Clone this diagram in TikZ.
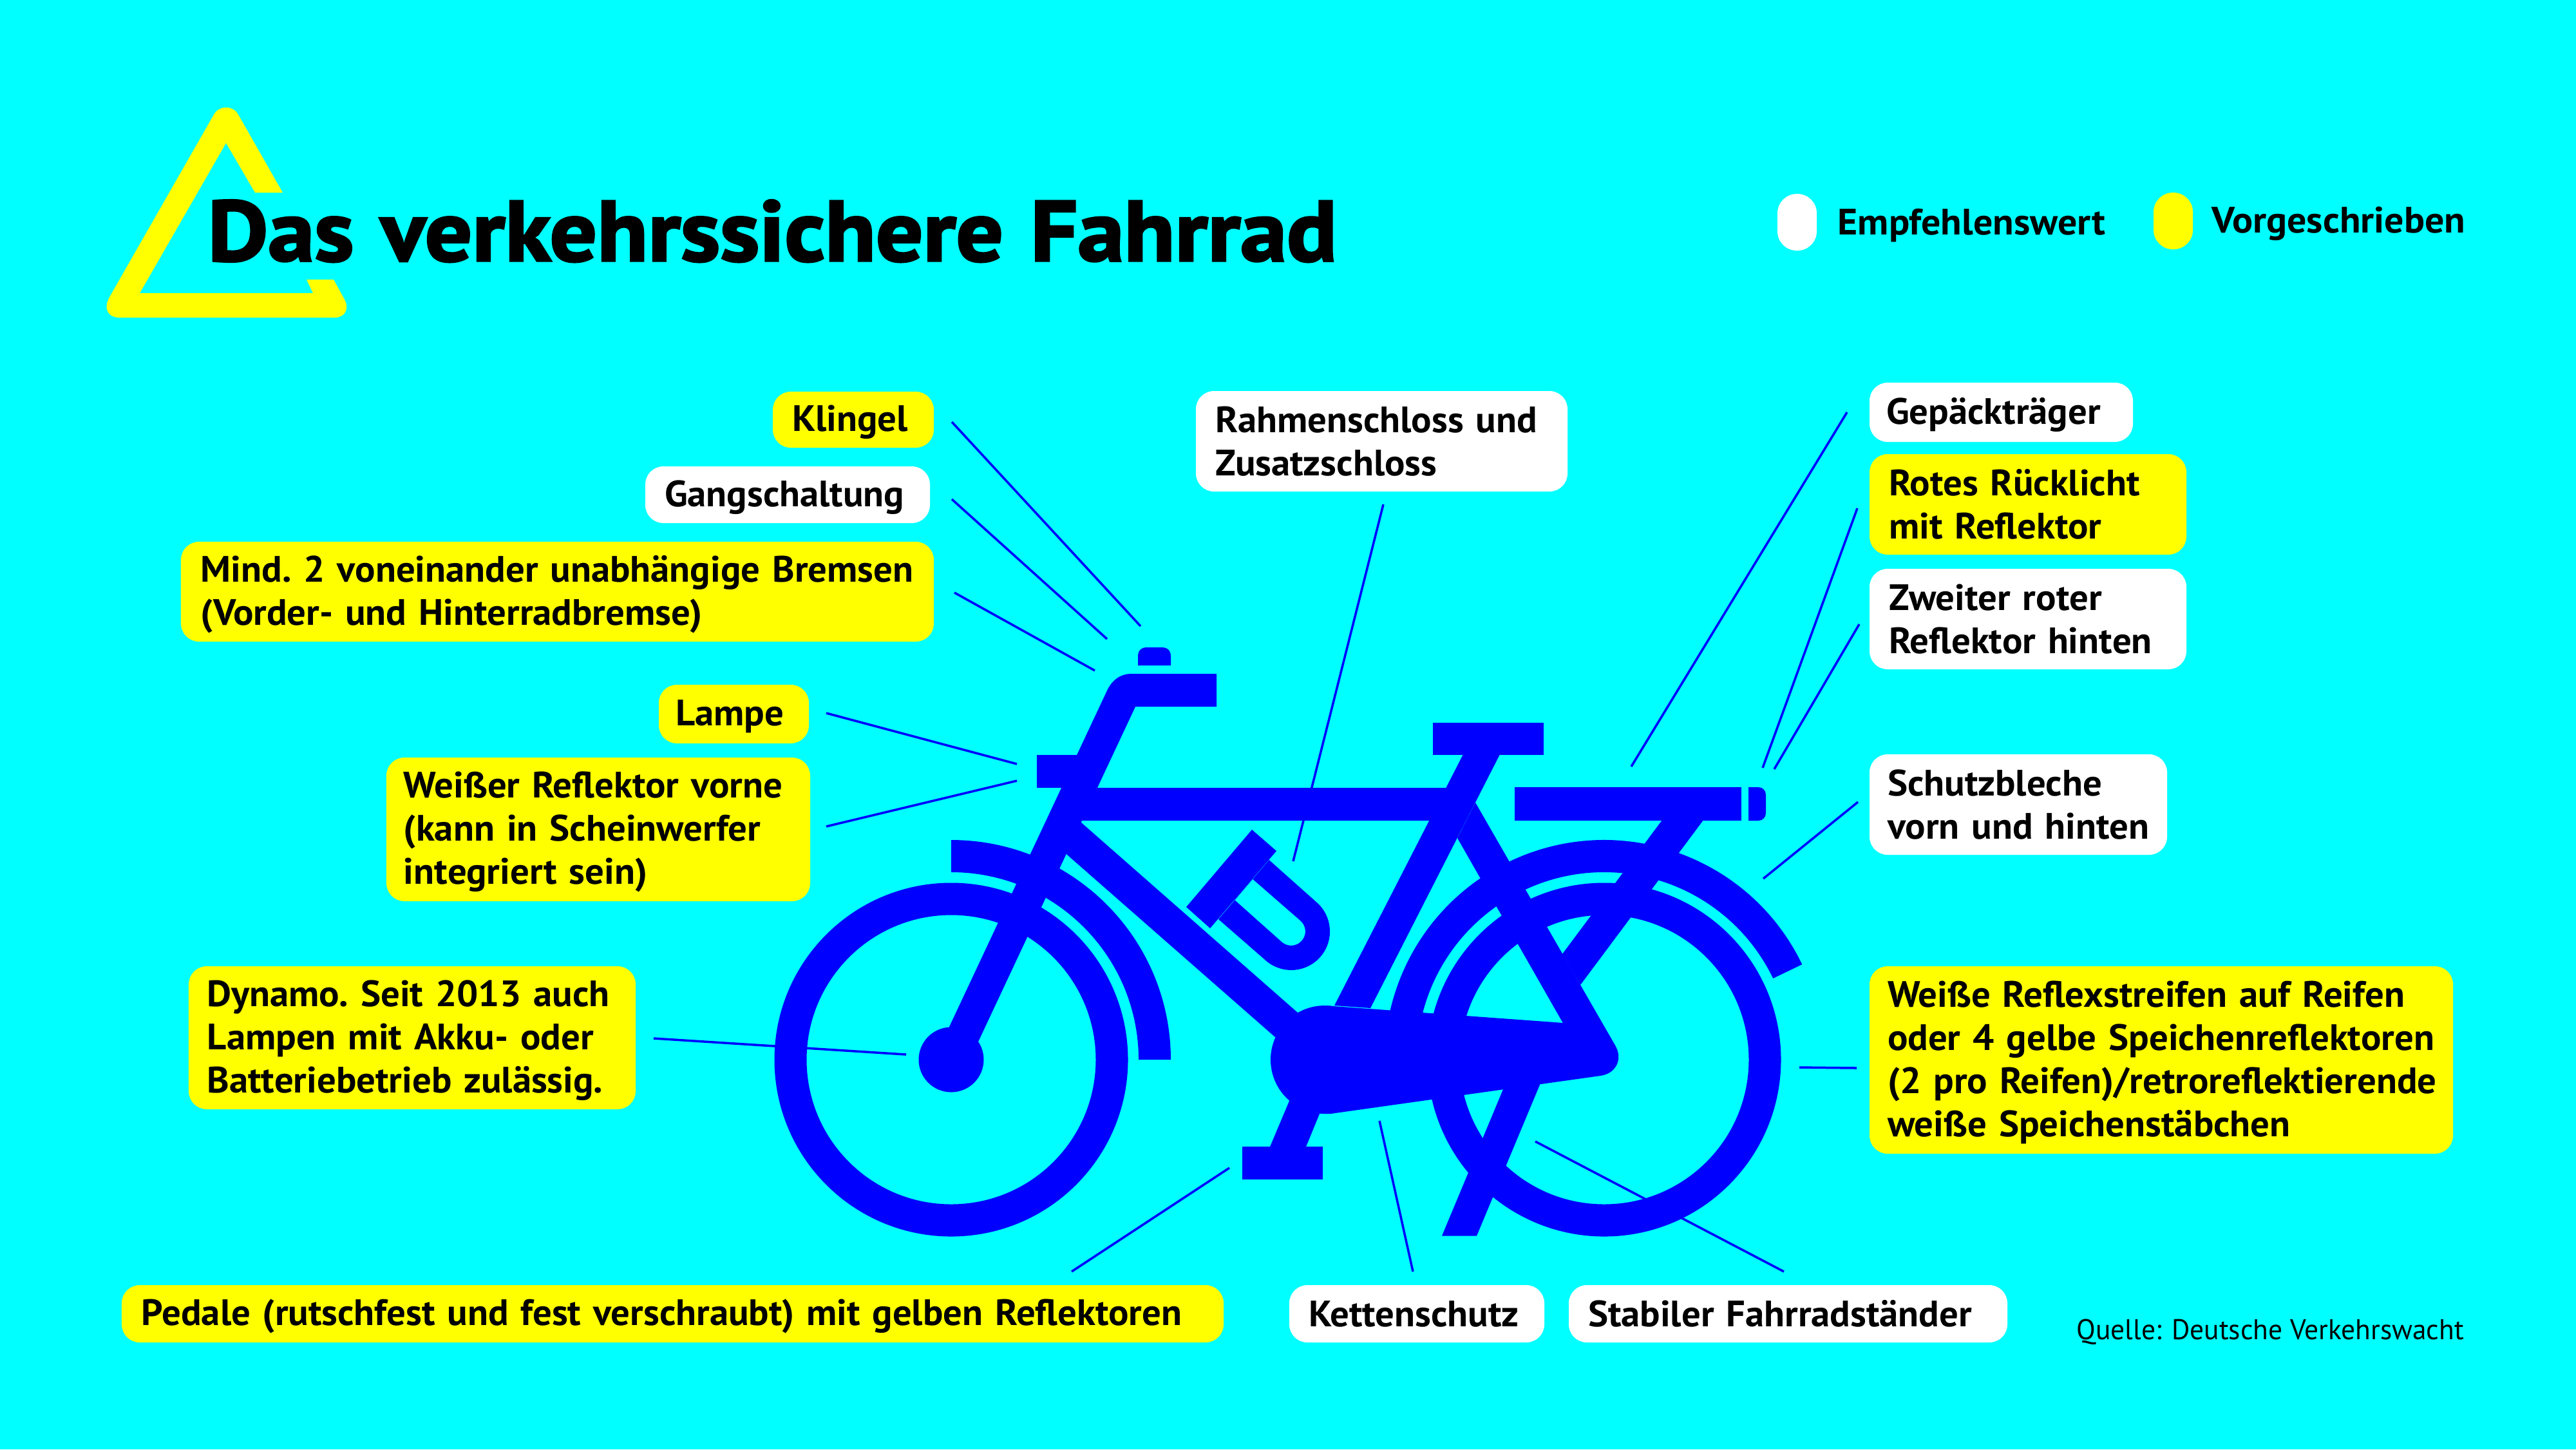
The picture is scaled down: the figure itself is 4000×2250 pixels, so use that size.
\documentclass[tikz,border=0pt]{standalone}
\usepackage{fontspec}
\newfontfamily\din[FakeStretch=1.03,WordSpace=0.8]{PT Sans}
\newfontfamily\legf[FakeStretch=1.05]{PT Sans}
\newfontfamily\srcf[FakeStretch=0.98]{PT Sans}
\newfontfamily\tit[FakeStretch=1.09,FakeBold=2.5,WordSpace=1.15]{PT Sans}
\definecolor{bg}{RGB}{0,255,255}
\definecolor{bike}{RGB}{0,0,255}
\definecolor{must}{RGB}{255,255,0}
\tikzset{
 box/.style={rounded corners=0.28cm,anchor=center,inner ysep=0pt,align=left,text=black,font=\din\bfseries\frenchspacing\fontsize{16.2}{19}\selectfont},
 ybox/.style={box,fill=must},
 wbox/.style={box,fill=white},
 leader/.style={draw=bike,line width=0.035cm},
 pill/.style={rounded corners=0.3cm,inner sep=0pt,minimum width=0.61cm,minimum height=0.88cm},
 legtext/.style={anchor=west,inner sep=0pt,font=\legf\bfseries\fontsize{16.2}{19}\selectfont},
}
\newcommand{\dn}[1]{\raisebox{-0.04cm}[\height][\depth]{\mbox{#1}}}
\newcommand{\lab}[8]{%
 \pgfmathsetmacro\cxx{(#3+#5)/2}\pgfmathsetmacro\cyy{(#4+#6)/2}%
 \pgfmathsetmacro\wdd{(#5-#3)*0.01}\pgfmathsetmacro\htt{(#6-#4)*0.01}%
 \pgfmathsetmacro\tww{(#5-#3-2*#7)*0.01}\pgfmathsetmacro\inss{#7*0.01}%
 \node[#2,minimum width=\wdd cm,minimum height=\htt cm,text width=\tww cm,inner xsep=\inss cm] (#1) at (\cxx,\cyy) {#8};}
\newcommand{\conn}[5]{\coordinate (#1a) at (#2,#3);\coordinate (#1b) at (#4,#5);\draw[leader] (#1a) -- (#1b);}
\begin{document}
\begin{tikzpicture}[x=0.01cm,y=-0.01cm]
\path[use as bounding box,fill=bg] (0,0) rectangle (4000,2250);
% logo
\fill[must] (439,299) -- (370,178) .. controls (362,163) and (340,163) .. (332,178) -- (169,463)
 .. controls (160,482) and (170,493) .. (185,493) -- (520,493) .. controls (535,493) and (543,480) .. (535,465)
 -- (518,434) -- (476,434) -- (486,455) -- (217,455) -- (351,222) -- (396,299) -- cycle;
\node[anchor=base west,inner sep=0pt,font=\tit\bfseries\fontsize{37.8}{40}\selectfont] (title) at (322,405) {Das verkehrssichere Fahrrad};
% legend
\node[pill,fill=white] (lw) at (2790.5,345) {};
\node[pill,fill=must] (ly) at (3374.5,343) {};
\node[legtext] (lwt) at (2853,350) {Empfehlenswert};
\node[legtext] (lyt) at (3434,347) {Vorgeschrieben};
% connectors
\conn{k}{1478}{655}{1771}{972}
\conn{g}{1478}{775}{1719}{992}
\conn{m}{1482}{920}{1700}{1041}
\conn{l}{1283}{1107}{1579}{1186}
\conn{r}{1283}{1283}{1579}{1212}
\conn{d}{1015}{1612}{1407}{1637}
\conn{p}{1664}{1974}{1909}{1813}
\conn{c}{2194}{1974}{2142}{1740}
\conn{s}{2770}{1974}{2384}{1772}
\conn{f}{2148}{783}{2008}{1337}
\conn{h}{2868}{640}{2533}{1190}
\conn{t}{2884}{789}{2737}{1192}
\conn{z}{2887}{969}{2755}{1194}
\conn{b}{2885}{1245}{2738}{1364}
\conn{w}{2883}{1658}{2794}{1657}
% labels
\lab{n1}{ybox}{1200}{608}{1450}{695}{30}{\dn{Klingel}}
\lab{n2}{wbox}{1002}{724}{1444}{812}{30}{\dn{Gangschaltung}}
\lab{n3}{ybox}{281}{841}{1450}{996}{31}{\dn{Mind. 2 voneinander unabhängige Bremsen}\\\dn{(Vorder- und Hinterradbremse)}}
\lab{n4}{ybox}{1023}{1063}{1256}{1154}{26}{\dn{Lampe}}
\lab{n5}{ybox}{600}{1176}{1258}{1399}{27}{\dn{Weißer Reflektor vorne}\\\dn{(kann in Scheinwerfer}\\\dn{integriert sein)}}
\lab{n6}{ybox}{293}{1500}{987}{1722}{29}{\dn{Dynamo. Seit 2013 auch}\\\dn{Lampen mit Akku- oder}\\\dn{Batteriebetrieb zulässig.}}
\lab{n7}{ybox}{189}{1995}{1900}{2084}{31}{\dn{Pedale (rutschfest und fest verschraubt) mit gelben Reflektoren}}
\lab{n8}{wbox}{2002}{1995}{2398}{2084}{30}{\mbox{Kettenschutz}}
\lab{n9}{wbox}{2436}{1995}{3117}{2084}{30}{\mbox{Stabiler Fahrradständer}}
\lab{n10}{wbox}{1857}{607}{2434}{763}{30}{\mbox{Rahmenschloss und}\\\mbox{Zusatzschloss}}
\lab{n11}{wbox}{2903}{594}{3312}{686}{26}{\dn{Gepäckträger}}
\lab{n12}{ybox}{2903}{705}{3395}{861}{30}{\mbox{Rotes Rücklicht}\\\mbox{mit Reflektor}}
\lab{n13}{wbox}{2903}{883}{3395}{1039}{30}{\mbox{Zweiter roter}\\\mbox{Reflektor hinten}}
\lab{n14}{wbox}{2903}{1171}{3365}{1327}{28}{\mbox{Schutzbleche}\\\mbox{vorn und hinten}}
\lab{n15}{ybox}{2903}{1500}{3809}{1791}{28}{\dn{Weiße Reflexstreifen auf Reifen}\\\dn{oder 4 gelbe Speichenreflektoren}\\\dn{(2 pro Reifen)/retroreflektierende}\\\dn{weiße Speichenstäbchen}}
\node[anchor=west,inner sep=0pt,font=\srcf\fontsize{12.6}{15}\selectfont] (src) at (3224,2068) {Quelle: Deutsche Verkehrswacht};
% bicycle
\begin{scope}[bike]
% wheels
\draw[bike,line width=0.5cm] (1477,1645) circle[radius=249.5];
\draw[bike,line width=0.5cm] (2491,1645) circle[radius=249.5];
% fenders
\fill (1477,1304) arc[start angle=-90,end angle=0,radius=341] -- (1768,1645) arc[start angle=0,end angle=-90,radius=291] -- cycle;
\fill ([shift={(2491,1645)}]-25.7:341) arc[start angle=-25.7,end angle=-175,radius=341] -- ([shift={(2491,1645)}]-175:291) arc[start angle=-175,end angle=-25.7,radius=291] -- cycle;
% hub, fork, handlebar
\fill (1477,1645) circle[radius=50.5];
\fill (1889,1046) -- (1757,1046) .. controls (1740,1046) and (1728,1055) .. (1720,1070) -- (1474,1594) -- (1500,1650) -- (1520,1615) -- (1763,1097) -- (1889,1097) -- cycle;
% bell
\fill (1767,1033) -- (1767,1019) .. controls (1767,1010) and (1772,1005) .. (1781,1005) -- (1804,1005) .. controls (1813,1005) and (1818,1010) .. (1818,1019) -- (1818,1033) -- cycle;
% lamp
\fill (1610,1172) rectangle (1690,1223);
% top tube
\fill (1660,1223) rectangle (2260,1274);
% down tube
\fill (1679,1277) -- (2015,1572) -- (1980,1610) -- (1656,1326) -- (1640,1300) -- cycle;
% seat tube and saddle
\fill (2225,1122) rectangle (2397,1172);
\fill (2272,1171) -- (2329,1171) -- (2128,1565) -- (2072,1561) -- cycle;
% seat stay
\fill (2291,1246) -- (2507,1621) -- (2428,1590) -- (2263,1301) -- cycle;
% carrier
\fill (2352,1222) rectangle (2704,1274);
\fill (2715,1222) -- (2730,1222) .. controls (2737,1222) and (2742,1227) .. (2742,1234) -- (2742,1262) .. controls (2742,1269) and (2737,1274) .. (2730,1274) -- (2715,1274) -- cycle;
\fill (2581,1273) -- (2645,1273) -- (2454,1529) -- (2426,1481) -- cycle;
% chain guard
\fill (2057,1645) circle[radius=84];
\fill (2057,1561) -- (2428,1588) -- (2507,1621) .. controls (2522,1645) and (2508,1667) .. (2485,1670) -- (2066,1729) -- (2057,1729) -- cycle;
% kickstand
\fill (2239,1918.5) -- (2293,1918.5) -- (2401,1660) -- (2347,1660) -- cycle;
% crank and pedal
\fill (1970,1785) -- (2026,1785) -- (2065,1690) -- (2010,1690) -- cycle;
\fill (1929,1780) rectangle (2054,1831);
% lock
\fill (1944,1288) -- (1982,1321) -- (1879,1441) -- (1842,1408) -- cycle;
\fill[even odd rule] (1970.6,1335) -- (2043.6,1400) arc[start angle=-50,end angle=130,radius=60] -- (1892,1427) -- cycle
 (1945,1364.6) -- (2019,1429) arc[start angle=-50,end angle=130,radius=22] -- (1917,1397) -- cycle;
\end{scope}
\end{tikzpicture}
\end{document}
